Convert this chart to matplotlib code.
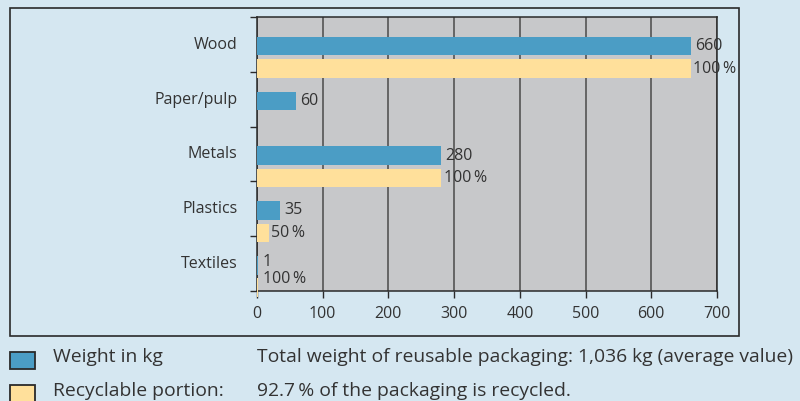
import numpy as np
import matplotlib
matplotlib.use("Agg")
import matplotlib.pyplot as plt
from matplotlib.patches import Rectangle

categories = ["Wood", "Paper/pulp", "Metals", "Plastics", "Textiles"]
weight_kg = [660, 60, 280, 35, 1]
recycled_pct = [100, None, 100, 50, 100]
x_ticks = [0, 100, 200, 300, 400, 500, 600, 700]

legend_rows = [
    ("Weight in kg", "Total weight of reusable packaging: 1,036 kg (average value)"),
    ("Recyclable portion:", "92.7\u2009% of the packaging is recycled."),
]

BG = "#d5e7f1"
PLOT_BG = "#c7c8ca"
BLUE = "#4b9dc5"
YELLOW = "#ffe09b"
TXT = "#333333"
DARK = "#2a2a2a"

plt.rcParams["font.family"] = ["Open Sans", "DejaVu Sans"]

fig = plt.figure(figsize=(8, 4.01), dpi=100, facecolor=BG)
W, H = 800, 401


def fx(px):
    return px / W


def fy(py):
    return 1 - py / H


# outer frame
fig.patches.append(Rectangle((fx(10), fy(336)), fx(739) - fx(10), fy(8) - fy(336),
                             transform=fig.transFigure, fill=False,
                             edgecolor=DARK, linewidth=1.2, zorder=0))

ax = fig.add_axes([fx(257), fy(291), fx(717) - fx(257), fy(17) - fy(291)])
ax.set_facecolor(PLOT_BG)

pos = np.arange(len(categories))
blue_c = pos + 0.53
yel_c = pos + 0.94
bar_h = 0.34

ax.barh(blue_c, weight_kg, height=bar_h, color=BLUE, zorder=3)
yel_vals = [w * p / 100 if p is not None else 0 for w, p in zip(weight_kg, recycled_pct)]
for i, (w, p) in enumerate(zip(weight_kg, recycled_pct)):
    if p is None:
        continue
    ax.barh(yel_c[i], yel_vals[i], height=bar_h, color=YELLOW, zorder=3, clip_on=False)

for i, (w, p) in enumerate(zip(weight_kg, recycled_pct)):
    dx1, dy1, dx2, dy2 = 3, 0, 2, 0
    if categories[i] == "Textiles":
        dx1, dy1, dx2, dy2 = 3.5, 2, 3.5, 6
    ax.annotate(str(w), (w, blue_c[i]), xytext=(dx1, dy1), textcoords="offset points",
                va="center", ha="left", fontsize=11.5, color=TXT, zorder=5,
                annotation_clip=False)
    if p is not None:
        ax.annotate(f"{p}\u2009%", (yel_vals[i], yel_c[i]), xytext=(dx2, dy2),
                    textcoords="offset points", va="center", ha="left",
                    fontsize=11.5, color=TXT, zorder=5, annotation_clip=False)

ax.set_xlim(0, 700)
ax.set_ylim(5, 0)
ax.set_xticks(x_ticks)
ax.set_xticklabels([str(t) for t in x_ticks])
ax.xaxis.grid(True, color="#4a4a4a", linewidth=1.1, zorder=1)
ax.set_axisbelow(True)

ax.set_yticks(np.arange(0, 6))
ax.set_yticklabels([])
ax.set_yticks(pos + 0.47, minor=True)
ax.set_yticklabels(categories, minor=True)
ax.tick_params(axis="y", which="major", length=5, width=1, color=DARK, direction="out")
ax.tick_params(axis="y", which="minor", length=0, pad=14, labelsize=11.5, labelcolor=TXT)
ax.tick_params(axis="x", length=5, width=1, color=DARK, pad=6, labelsize=11.5,
               labelcolor=TXT)
for s in ax.spines.values():
    s.set_color(DARK)
    s.set_linewidth(1.1)

# legend swatches and text rows
for k, (color, top) in enumerate([(BLUE, 352), (YELLOW, 385)]):
    fig.patches.append(Rectangle((fx(10), fy(top + 17)), fx(35) - fx(10), fy(top) - fy(top + 17),
                                 transform=fig.transFigure, facecolor=color,
                                 edgecolor=DARK, linewidth=1.3))
for k, (label, note) in enumerate(legend_rows):
    base = [362.5, 396][k]
    fig.text(fx(53), fy(base), label, fontsize=13.9, color=TXT, va="baseline")
    fig.text(fx(257), fy(base), note, fontsize=13.9, color=TXT, va="baseline")

fig.savefig("out.png", dpi=100, facecolor=BG)
